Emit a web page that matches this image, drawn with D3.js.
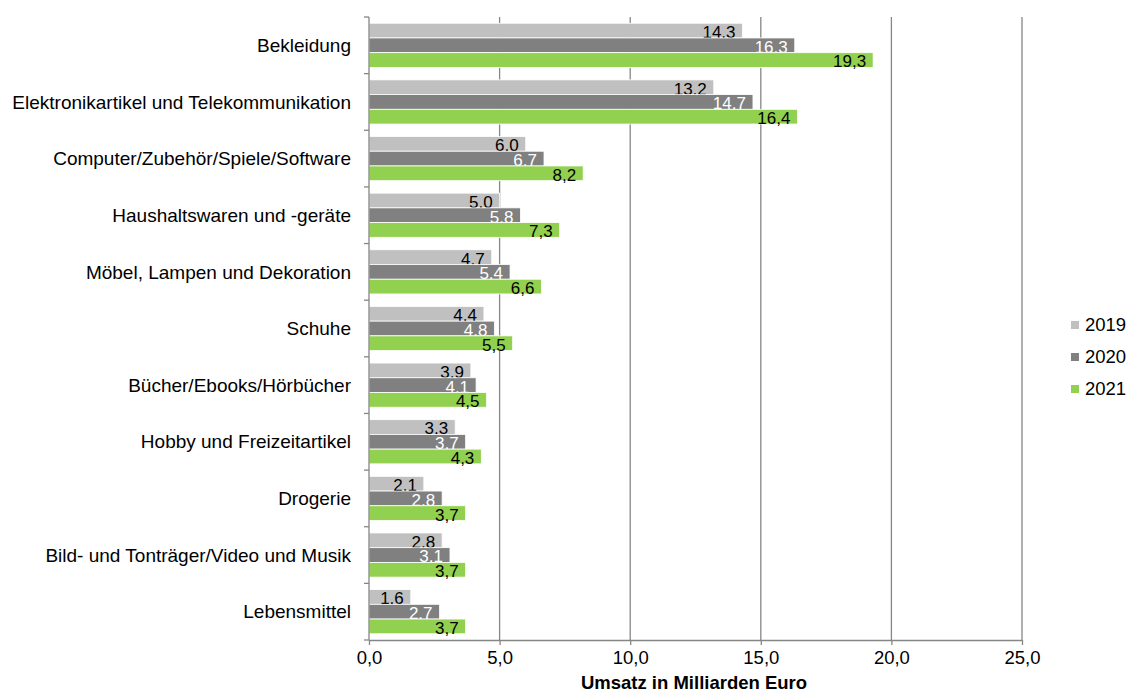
<!DOCTYPE html>
<html><head><meta charset="utf-8">
<script src="https://cdn.jsdelivr.net/npm/d3@7"></script>
<style>body{margin:0;background:#fff;} text{font-family:"Liberation Sans",Arial,sans-serif;}</style>
</head><body>
<svg id="c" width="1130" height="693"></svg>
<script>
const categories = ["Bekleidung","Elektronikartikel und Telekommunikation","Computer/Zubehör/Spiele/Software","Haushaltswaren und -geräte","Möbel, Lampen und Dekoration","Schuhe","Bücher/Ebooks/Hörbücher","Hobby und Freizeitartikel","Drogerie","Bild- und Tonträger/Video und Musik","Lebensmittel"];
const years = ["2019","2020","2021"];
const v2019 = [14.3,13.2,6.0,5.0,4.7,4.4,3.9,3.3,2.1,2.8,1.6];
const v2020 = [16.3,14.7,6.7,5.8,5.4,4.8,4.1,3.7,2.8,3.1,2.7];
const v2021 = [19.3,16.4,8.2,7.3,6.6,5.5,4.5,4.3,3.7,3.7,3.7];
const xTicks = [0,5,10,15,20,25];
const colors = ["#c0c0c0","#808080","#92d050"];
const labelColors = ["#000","#fff","#000"];
const series = [v2019,v2020,v2021];

const FS = 18.5;
const svg = d3.select("#c");
const pL = 369, pR = 1022, pT = 17, pB = 640;
const x = d3.scaleLinear().domain([0,25]).range([pL,pR]);
const y = d3.scaleBand().domain(categories).range([pT,pB]).paddingInner(0.22).paddingOuter(0.11);
const ys = d3.scaleBand().domain(years).range([0,y.bandwidth()]);
const fmt = d => d.toFixed(1).replace(".",",");

// gridlines
svg.append("g").selectAll("line").data(xTicks.slice(1)).join("line")
  .attr("x1",d=>x(d)).attr("x2",d=>x(d)).attr("y1",pT).attr("y2",pB)
  .attr("stroke","#868686").attr("stroke-width",1.3);

// bars
series.forEach((vals,si)=>{
  const g = svg.append("g");
  g.selectAll("rect").data(vals).join("rect")
    .attr("x",x(0)).attr("y",(d,i)=>y(categories[i])+ys(years[si]))
    .attr("width",d=>x(d)-x(0)).attr("height",ys.bandwidth())
    .attr("fill",colors[si]).attr("stroke","#fff").attr("stroke-width",0.8);
  g.selectAll("text").data(vals).join("text")
    .attr("x",d=>x(d)-7).attr("y",(d,i)=>y(categories[i])+ys(years[si])+ys.bandwidth()/2+1.5)
    .attr("dy","0.35em").attr("text-anchor","end").attr("font-size",17)
    .attr("fill",labelColors[si]).text(fmt);
});

// x axis
const xa = svg.append("g").attr("transform",`translate(0,${pB})`)
  .call(d3.axisBottom(x).tickValues(xTicks).tickFormat(fmt).tickSize(5).tickSizeOuter(0));
xa.select(".domain").attr("stroke","#868686").attr("stroke-width",1.3);
xa.selectAll(".tick line").attr("stroke","#868686").attr("stroke-width",1.3);
xa.selectAll(".tick text").attr("font-size",FS).attr("fill","#000").attr("y",11).attr("dy","0.71em").style("font-family","Liberation Sans, Arial, sans-serif");

// y axis
const boundaries = categories.map(c=>y(c)-y.step()*y.paddingInner()/2).concat([pB]);
svg.append("line").attr("x1",pL).attr("x2",pL).attr("y1",pT).attr("y2",pB).attr("stroke","#868686").attr("stroke-width",1.3);
svg.append("g").selectAll("line").data(boundaries).join("line")
  .attr("x1",pL-5).attr("x2",pL).attr("y1",d=>d).attr("y2",d=>d)
  .attr("stroke","#868686").attr("stroke-width",1.3);
svg.append("g").selectAll("text").data(categories).join("text")
  .attr("x",351).attr("y",d=>y(d)+y.bandwidth()/2).attr("dy","0.35em")
  .attr("text-anchor","end").attr("font-size",19).attr("fill","#000").text(d=>d);

// axis title
svg.append("text").attr("x",694).attr("y",689).attr("text-anchor","middle")
  .attr("font-size",FS).attr("font-weight","bold").text("Umsatz in Milliarden Euro");

// legend
const lg = svg.append("g");
years.forEach((yr,i)=>{
  lg.append("rect").attr("x",1071).attr("y",321+i*32).attr("width",8).attr("height",8).attr("fill",colors[i]);
  lg.append("text").attr("x",1085).attr("y",325+i*32).attr("dy","0.35em").attr("font-size",FS).text(yr);
});
</script>
</body></html>
